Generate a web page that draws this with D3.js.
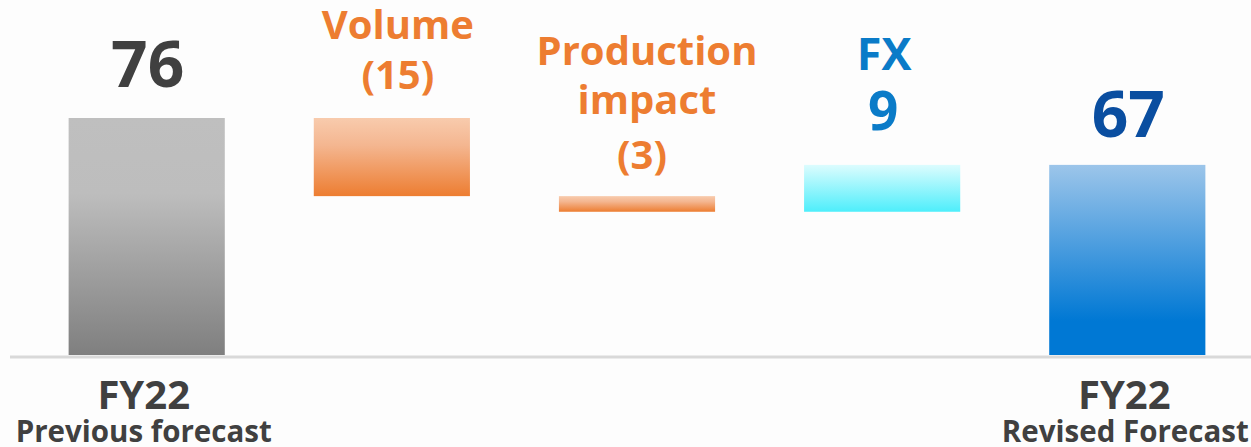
<!DOCTYPE html>
<html>
<head>
<meta charset="utf-8">
<script src="https://cdn.jsdelivr.net/npm/d3@7/dist/d3.min.js"></script>
<style>
  html, body { margin: 0; padding: 0; background: #fdfdfd; }
  svg { display: block; }
  text { font-family: "Open Sans", "Noto Sans", sans-serif; font-weight: 700; }
</style>
</head>
<body>
<svg id="chart" width="1251" height="447"></svg>
<script>
// ---- data ----
const categories = ["FY22 Previous forecast", "Volume", "Production impact", "FX", "FY22 Revised Forecast"];
const kinds = ["total", "delta", "delta", "delta", "total"];
const values = [76, -15, -3, 9, 67];
const valueLabels = ["76", "(15)", "(3)", "9", "67"];
const topTitles = [[], ["Volume"], ["Production", "impact"], ["FX"], []];
const bottomTitles = [["FY22", "Previous forecast"], [], [], [], ["FY22", "Revised Forecast"]];
const axisMin = 30.5;

// ---- layout ----
const W = 1251, H = 447;
const svg = d3.select("#chart");
const baseY = 355;

const x = d3.scaleBand().domain(categories).range([24.5, 1249.5]).paddingInner(0.363).paddingOuter(0.18);
const y = d3.scaleLinear().domain([axisMin, 76]).range([baseY, 118]);

// compute waterfall segments
let running = 0;
const segs = categories.map((c, i) => {
  let lo, hi;
  if (kinds[i] === "total") { lo = axisMin; hi = values[i]; running = values[i]; }
  else { const start = running; running = start + values[i]; lo = Math.min(start, running); hi = Math.max(start, running); }
  return { c, i, lo, hi };
});

// gradients
const gradDefs = [
  [[0, "#bfbfbf"], [0.32, "#bdbdbd"], [1, "#7f7f7f"]],
  [[0, "#f8cbad"], [0.35, "#f4b690"], [1, "#ed7d31"]],
  [[0, "#f8cbad"], [0.35, "#f4b690"], [1, "#ed7d31"]],
  [[0, "#dcfcfe"], [1, "#4eeefb"]],
  [[0, "#9cc5ea"], [0.82, "#0078d4"], [1, "#0078d4"]]
];
const defs = svg.append("defs");
gradDefs.forEach((stops, i) => {
  const g = defs.append("linearGradient").attr("id", "g" + i)
    .attr("x1", 0).attr("y1", 0).attr("x2", 0).attr("y2", 1);
  stops.forEach(s => g.append("stop").attr("offset", s[0]).attr("stop-color", s[1]));
});

svg.append("rect").attr("width", W).attr("height", H).attr("fill", "#fdfdfd");

// baseline
svg.append("line").attr("x1", 10).attr("x2", W).attr("y1", baseY + 2).attr("y2", baseY + 2)
  .attr("stroke", "#d9d9d9").attr("stroke-width", 3);

// bars
svg.selectAll("rect.bar").data(segs).join("rect").attr("class", "bar")
  .attr("x", d => x(d.c)).attr("width", x.bandwidth())
  .attr("y", d => y(d.hi)).attr("height", d => y(d.lo) - y(d.hi))
  .attr("fill", d => "url(#g" + d.i + ")");

// labels above bars
const colors = ["#404040", "#ed7d31", "#ed7d31", "#0a7bc8", "#0a4ea0"];
const titleSize = [0, 40, 40, 45, 0];
const valueSize = [64, 40, 40, 53, 64];
const valueGap = [31, 29, 27, 35, 28];
const lineH = [0, 50, 52, 60, 0];
const titleDx = [0, 6, 10, 2, 0];
const valueDx = [1, 6, 5, 1, 1];
segs.forEach(d => {
  const cx = x(d.c) + x.bandwidth() / 2;
  const vy = y(d.hi) - valueGap[d.i];
  const lines = topTitles[d.i];
  svg.append("text").attr("x", cx + valueDx[d.i]).attr("y", vy).attr("text-anchor", "middle")
    .attr("font-size", valueSize[d.i]).attr("fill", colors[d.i]).text(valueLabels[d.i]);
  lines.slice().reverse().forEach((t, k) => {
    svg.append("text").attr("x", cx + titleDx[d.i]).attr("y", vy - lineH[d.i] * (k + 1) - (d.i === 2 && k === 0 ? 3 : 0))
      .attr("text-anchor", "middle").attr("font-size", titleSize[d.i]).attr("fill", colors[d.i]).text(t);
  });
});

// bottom labels
segs.forEach(d => {
  const b = bottomTitles[d.i];
  if (!b.length) return;
  const cx = x(d.c) + x.bandwidth() / 2 - 3;
  svg.append("text").attr("x", cx).attr("y", 409).attr("text-anchor", "middle")
    .attr("font-size", 40).attr("fill", "#404040").text(b[0]);
  svg.append("text").attr("x", cx - (d.i === 4 ? -1 : 0)).attr("y", 442).attr("text-anchor", "middle")
    .attr("font-size", 29.5).attr("fill", "#404040").text(b[1]);
});
</script>
</body>
</html>
